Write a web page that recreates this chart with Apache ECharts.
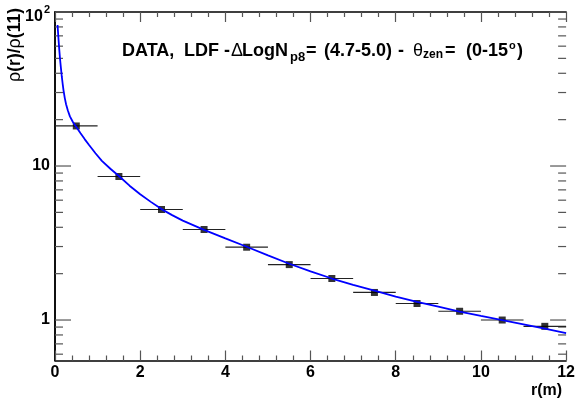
<!DOCTYPE html>
<html><head><meta charset="utf-8">
<script src="https://cdn.jsdelivr.net/npm/echarts@6/dist/echarts.min.js"></script>
<style>html,body{margin:0;padding:0;background:#fff}#c{width:578px;height:401px}</style>
</head><body><div id="c"></div>
<script>
// ---- data ----
const rCenters   = [0.5, 1.5, 2.5, 3.5, 4.5, 5.5, 6.5, 7.5, 8.5, 9.5, 10.5, 11.5];
const rHalfWidth = [0.5, 0.5, 0.5, 0.5, 0.5, 0.5, 0.5, 0.5, 0.5, 0.5, 0.5, 0.5];
const ratioValues = [18.2, 8.55, 5.22, 3.87, 2.97, 2.29, 1.86, 1.51, 1.28, 1.14, 1.0, 0.91];
const fitR      = [0.06, 0.08, 0.1, 0.12, 0.14, 0.16, 0.18, 0.2, 0.23, 0.26, 0.3, 0.35, 0.42, 0.5, 0.6, 0.7, 0.8, 0.95, 1.1, 1.3, 1.5, 1.75, 2.0, 2.25, 2.5, 2.75, 3.0, 3.5, 4.0, 4.5, 5.0, 5.5, 6.0, 6.5, 7.0, 7.5, 8.0, 8.5, 9.0, 9.5, 10.0, 10.5, 11.0, 11.5, 12.0];
const fitValues = [82.4, 68.0, 57.0, 49.0, 43.0, 38.0, 34.2, 31.0, 27.6, 25.2, 23.0, 21.0, 19.3, 17.9, 16.3, 14.9, 13.7, 12.1, 10.8, 9.6, 8.61, 7.45, 6.55, 5.85, 5.25, 4.80, 4.42, 3.85, 3.39, 2.99, 2.63, 2.32, 2.07, 1.86, 1.69, 1.55, 1.42, 1.31, 1.22, 1.135, 1.064, 1.0, 0.938, 0.879, 0.822];
const yMajorTicks = [1, 10, 100];
const yMinorTicks = [0.6, 0.7, 0.8, 0.9, 2, 3, 4, 5, 6, 7, 8, 9, 20, 30, 40, 50, 60, 70, 80, 90];
const xRange = [0, 12];
const yRange = [0.546, 100];
const xTickStep = 2;

const FONT = '"Liberation Sans", Arial, Helvetica, sans-serif';
const chart = echarts.init(document.getElementById('c'), null, {renderer: 'canvas'});

const frameLine = {show: true, lineStyle: {color: '#000', width: 1.5}};
const TICK_COLOR = '#555';
const tickStyle = {color: TICK_COLOR, width: 1.2};

const xAxisBase = {
  type: 'value', min: xRange[0], max: xRange[1], interval: xTickStep,
  axisLine: frameLine,
  axisTick: {show: true, inside: true, length: 10, lineStyle: tickStyle},
  minorTick: {show: true, splitNumber: 5, length: 5, lineStyle: tickStyle},
  splitLine: {show: false}, minorSplitLine: {show: false}
};
const yAxisBase = {
  type: 'log', logBase: 10, min: yRange[0], max: yRange[1],
  axisLine: frameLine,
  axisTick: {show: false},
  minorTick: {show: false},
  splitLine: {show: false}
};

const errData = rCenters.map((r, i) => [r, ratioValues[i], rHalfWidth[i]]);
const ptData = rCenters.map((r, i) => [r, ratioValues[i]]);
const fitData = fitR.map((r, i) => [r, fitValues[i]]);
const yTickData = yMajorTicks.map(v => [xRange[0], v, 16]).concat(yMinorTicks.map(v => [xRange[0], v, 8]));

// title pieces (text layout only)
const B = {fontFamily: FONT, fontSize: 18, fontWeight: 'bold', fill: '#000', verticalAlign: 'middle'};
const G = {fontFamily: FONT, fontSize: 18, fill: '#000', verticalAlign: 'middle'};
const S = {fontFamily: FONT, fontSize: 13, fontWeight: 'bold', fill: '#000', verticalAlign: 'middle'};
const S2 = {fontFamily: FONT, fontSize: 12, fontWeight: 'bold', fill: '#000', verticalAlign: 'middle'};
const O = {fontFamily: FONT, fontSize: 11, fontWeight: 'bold', fill: '#000', verticalAlign: 'middle'};
function piece(text, x, y, st) { return {type: 'text', x: x, y: y, silent: true, style: Object.assign({text: text}, st)}; }

chart.setOption({
  animation: false,
  backgroundColor: '#fff',
  grid: {left: 55, right: 11, top: 12, bottom: 40.5, containLabel: false},
  xAxis: [
    Object.assign({}, xAxisBase, {
      position: 'bottom',
      axisLabel: {show: true, margin: 4, color: '#000', fontFamily: FONT, fontWeight: 'bold', fontSize: 16},
      name: 'r(m)', nameLocation: 'end', nameGap: -4,
      nameTextStyle: {color: '#000', fontFamily: FONT, fontWeight: 'bold', fontSize: 16, align: 'right', verticalAlign: 'top', padding: [22, 0, 0, 0]}
    }),
    Object.assign({}, xAxisBase, {position: 'top', axisLabel: {show: false}})
  ],
  yAxis: [
    Object.assign({}, yAxisBase, {
      position: 'left',
      axisLabel: {
        show: true, margin: 5, color: '#000', fontFamily: FONT, fontWeight: 'bold', fontSize: 16,
        showMinLabel: false,
        formatter: function (v) {
          const l = Math.log10(v);
          if (Math.abs(l - Math.round(l)) > 1e-6) return '';
          const e = Math.round(l);
          if (e >= 2) return '{a|10}{s|' + e + '}';
          return String(Math.round(v));
        },
        rich: {
          a: {fontFamily: FONT, fontWeight: 'bold', fontSize: 16, color: '#000', padding: [10, 0, 0, 0]},
          s: {fontFamily: FONT, fontWeight: 'bold', fontSize: 11, color: '#000', padding: [0, 0, 4, 1]}
        }
      }
    }),
    Object.assign({}, yAxisBase, {position: 'right', axisLabel: {show: false}})
  ],
  graphic: [
    {
      type: 'text', x: 15, y: 8, rotation: Math.PI / 2, silent: true,
      style: {
        text: '{g|ρ}{b|(r)/}{g|ρ}{b|(11)}', align: 'right', verticalAlign: 'middle',
        rich: {
          g: {fontFamily: FONT, fontSize: 18, fill: '#000'},
          b: {fontFamily: FONT, fontSize: 17.5, fontWeight: 'bold', fill: '#000'}
        }
      }
    },
    piece('DATA,', 122, 51, B),
    piece('LDF', 184, 51, B),
    piece('-', 224, 51, B),
    piece('Δ', 231, 51, G),
    piece('LogN', 242, 51, B),
    piece('p8', 290, 57, S),
    piece('=', 306, 51, B),
    piece('(4.7-5.0)', 324, 51, B),
    piece('-', 398, 51, B),
    piece('θ', 413, 51, G),
    piece('zen', 423, 55, S2),
    piece('=', 445, 51, B),
    piece('(0-15', 466, 51, B),
    piece('o', 509, 46, O),
    piece(')', 517, 51, B)
  ],
  series: [
    {
      type: 'custom', name: 'yTicks', xAxisIndex: 0, yAxisIndex: 0, silent: true, clip: false, z: 1,
      renderItem: function (params, api) {
        const v = api.value(1), len = api.value(2);
        const pl = api.coord([xRange[0], v]);
        const pr = api.coord([xRange[1], v]);
        return {type: 'group', children: [
          {type: 'line', shape: {x1: pl[0], y1: pl[1], x2: pl[0] + len, y2: pl[1]}, style: {stroke: TICK_COLOR, lineWidth: 1.2}},
          {type: 'line', shape: {x1: pr[0] - len, y1: pr[1], x2: pr[0], y2: pr[1]}, style: {stroke: TICK_COLOR, lineWidth: 1.2}}
        ]};
      },
      data: yTickData
    },
    {
      type: 'custom', name: 'xErrors', xAxisIndex: 0, yAxisIndex: 0, silent: true, z: 2,
      renderItem: function (params, api) {
        const r = api.value(0), v = api.value(1), e = api.value(2);
        const a = api.coord([r - e, v]);
        const b = api.coord([r + e, v]);
        return {type: 'line', shape: {x1: a[0], y1: a[1], x2: b[0], y2: b[1]}, style: {stroke: '#222', lineWidth: 1.2}};
      },
      data: errData
    },
    {
      type: 'scatter', name: 'data', xAxisIndex: 0, yAxisIndex: 0, z: 3,
      symbol: 'rect', symbolSize: 7, itemStyle: {color: '#000'},
      data: ptData
    },
    {
      type: 'line', name: 'fit', xAxisIndex: 0, yAxisIndex: 0, z: 4,
      showSymbol: false, smooth: false,
      lineStyle: {color: '#0000ff', width: 1.8},
      data: fitData
    }
  ]
});
</script>
</body></html>
